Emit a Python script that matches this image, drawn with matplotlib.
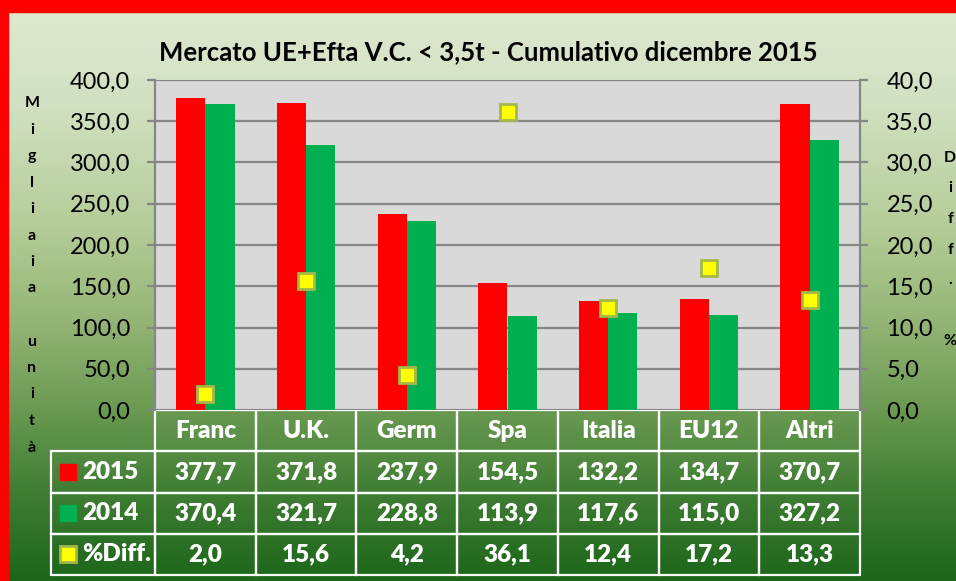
import matplotlib.pyplot as plt
import numpy as np
from matplotlib.ticker import MultipleLocator, FuncFormatter
from matplotlib.colors import LinearSegmentedColormap
from matplotlib.patches import Rectangle

paesi = ['Franc', 'U.K.', 'Germ', 'Spa', 'Italia', 'EU12', 'Altri']
v2015 = [377.7, 371.8, 237.9, 154.5, 132.2, 134.7, 370.7]
v2014 = [370.4, 321.7, 228.8, 113.9, 117.6, 115.0, 327.2]
diff = [2.0, 15.6, 4.2, 36.1, 12.4, 17.2, 13.3]
righe = ['2015', '2014', '%Diff.']
titolo = 'Mercato UE+Efta V.C. < 3,5t - Cumulativo dicembre 2015'

plt.rcParams['font.family'] = ['Lato', 'DejaVu Sans']


def virgola(v, pos=None):
    return ('%.1f' % v).replace('.', ',')


W, H = 956, 581
fig = plt.figure(figsize=(W / 100, H / 100), dpi=100)

# sfondo sfumato verde
bg = fig.add_axes([0, 0, 1, 1], zorder=-10)
cmap = LinearSegmentedColormap.from_list('verde', [
    (0.0, '#E0EAD3'), (0.2, '#CFDFBE'), (0.4, '#B2CB96'), (0.55, '#95B576'),
    (0.7, '#6C9B53'), (0.85, '#3F7D33'), (1.0, '#1C661A')])
bg.imshow(np.linspace(0, 1, 256).reshape(-1, 1), aspect='auto', cmap=cmap,
          extent=[0, 1, 0, 1])
bg.axis('off')

# bordo rosso e cornice
fig.add_artist(Rectangle((0, 0), 8 / W, 1, transform=fig.transFigure,
                         color='#FF0000', zorder=5))
fig.add_artist(Rectangle((0, 1 - 12 / H), 1, 12 / H, transform=fig.transFigure,
                         color='#FF0000', zorder=5))
fig.add_artist(Rectangle((8 / W, -0.1), 1.2, 1.1 - 12 / H, transform=fig.transFigure,
                         fill=False, edgecolor='#A0A0A0', lw=1.2, zorder=4))

ax = fig.add_axes([155 / W, 171 / H, 705 / W, 330 / H])
ax.set_facecolor('#D9D9D9')
x = np.arange(len(paesi))
ax.bar(x - 0.145, v2015, 0.29, color='#FF0000', zorder=2)
ax.bar(x + 0.145, v2014, 0.29, color='#00B050', zorder=2)
ax.set_xlim(-0.5, 6.5)
ax.set_ylim(0, 400)
ax.yaxis.set_major_locator(MultipleLocator(50))
ax.yaxis.set_major_formatter(FuncFormatter(virgola))
ax.grid(axis='y', color='#868686', lw=1.6)
ax.set_axisbelow(True)
ax.set_xticks([])
for s in ['top', 'bottom', 'right']:
    ax.spines[s].set_visible(False)
ax.spines['left'].set_color('#868686')
ax.spines['left'].set_linewidth(1.6)
ax.tick_params(axis='y', length=6, width=1.6, color='#868686', labelsize=17, pad=12)

ax2 = ax.twinx()
ax2.plot(x, diff, 's', ms=11, mfc='#FFFF00', mec='#A5B84A', mew=2, zorder=3)
ax2.set_ylim(0, 40)
ax2.yaxis.set_major_locator(MultipleLocator(5))
ax2.yaxis.set_major_formatter(FuncFormatter(virgola))
for s in ['top', 'bottom', 'left']:
    ax2.spines[s].set_visible(False)
ax2.spines['right'].set_color('#868686')
ax2.spines['right'].set_linewidth(1.6)
ax2.tick_params(axis='y', length=6, width=1.6, color='#868686', labelsize=17, pad=13)

# tabella dati (il bbox copre solo le colonne dei dati)
celle = [[virgola(v) for v in v2015], [virgola(v) for v in v2014],
         [virgola(v) for v in diff]]
tab = ax.table(cellText=celle, rowLabels=righe, colLabels=paesi,
               cellLoc='center', rowLoc='left',
               bbox=[0, -0.5, 1, 0.5])
tab.auto_set_font_size(False)
tab.set_fontsize(17.5)
# larghezza fissa per la colonna delle etichette
if -1 in tab._autoColumns:
    tab._autoColumns.remove(-1)
for (r, c), cell in tab.get_celld().items():
    cell.set_width(104 / 705 if c == -1 else 1 / 7)
    cell.set_height(0.125)
    cell.set_facecolor('none')
    cell.set_edgecolor('white')
    cell.set_linewidth(1.6)
    cell.set_text_props(color='white', fontweight='heavy')
    if c == -1:
        cell.PAD = 0.3

# quadratini legenda nella tabella
ax.plot([-0.124], [-0.1875], 's', ms=11, color='#FF0000', transform=ax.transAxes, clip_on=False)
ax.plot([-0.124], [-0.3125], 's', ms=11, color='#00B050', transform=ax.transAxes, clip_on=False)
ax.plot([-0.124], [-0.4375], 's', ms=11, mfc='#FFFF00', mec='#A5B84A', mew=2,
        transform=ax.transAxes, clip_on=False)

fig.text(488 / W, 1 - 60 / H, titolo, ha='center', va='baseline', fontsize=18.5,
         fontweight='bold')

for i, ch in enumerate('Migliaia unità'):
    fig.text(32 / W, 1 - (107 + 26.5 * i) / H, ch, ha='center', va='baseline',
             fontsize=11.5, fontweight='bold')
for i, ch in enumerate('Diff. %'):
    fig.text(950 / W, 1 - (162 + 30.5 * i) / H, ch, ha='center', va='baseline',
             fontsize=11.5, fontweight='bold')

plt.savefig('out.png', dpi=100)
